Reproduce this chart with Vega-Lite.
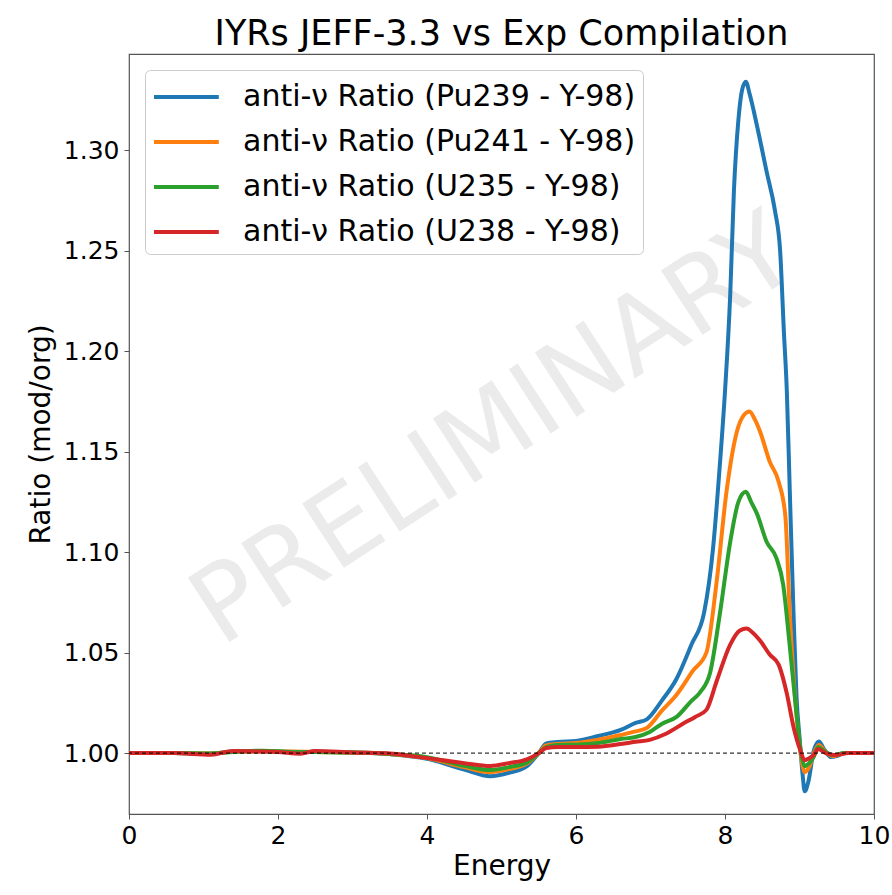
{
 "$schema": "https://vega.github.io/schema/vega-lite/v6.json",
 "width": 745,
 "height": 760,
 "autosize": {"type": "none"},
 "padding": {"left": 129, "top": 54, "right": 18, "bottom": 81},
 "background": "white",
 "config": {"font": "DejaVu Sans", "view": {"stroke": "#555", "strokeWidth": 1.2}},
 "title": {"text": "IYRs JEFF-3.3 vs Exp Compilation", "fontSize": 35, "fontWeight": "normal", "color": "#000", "anchor": "middle", "frame": "group", "offset": 2},
 "layer": [
  {
   "data": {"values": [{}]},
   "mark": {"type": "text", "text": "PRELIMINARY", "fontSize": 105, "angle": -33, "color": "#ebebeb", "align": "center", "baseline": "middle"},
   "encoding": {
    "x": {"datum": 4.91, "type": "quantitative", "scale": {"domain": [0, 10], "nice": false, "zero": false}, "axis": {"title": "Energy", "values": [0, 2, 4, 6, 8, 10], "format": "d", "labelFontSize": 25, "titleFontSize": 28, "titleFontWeight": "normal", "tickSize": 5, "labelPadding": 4, "titlePadding": 4, "grid": false, "domain": false, "labelColor": "#000", "titleColor": "#000", "tickColor": "#555", "labelFlush": false}},
    "y": {"datum": 1.16, "type": "quantitative", "scale": {"domain": [0.9697, 1.3478], "nice": false, "zero": false}, "axis": {"title": "Ratio (mod/org)", "values": [1, 1.05, 1.1, 1.15, 1.2, 1.25, 1.3], "format": ".2f", "labelFontSize": 25, "titleFontSize": 28, "titleFontWeight": "normal", "tickSize": 5, "labelPadding": 5, "titlePadding": 8, "grid": false, "domain": false, "labelColor": "#000", "titleColor": "#000", "tickColor": "#555"}}
   }
  },
  {
   "data": {"values": [
    {"k":"Pu239","e":0,"r":1.0},{"k":"Pu239","e":0.6,"r":1.0},{"k":"Pu239","e":1.1,"r":0.9997},{"k":"Pu239","e":1.4,"r":1.0008},{"k":"Pu239","e":1.8,"r":1.001},{"k":"Pu239","e":2.2,"r":1.0004},{"k":"Pu239","e":2.5,"r":1.0007},{"k":"Pu239","e":3.0,"r":1.0003},{"k":"Pu239","e":3.5,"r":0.9995},{"k":"Pu239","e":4.0,"r":0.9972},{"k":"Pu239","e":4.5,"r":0.9918},{"k":"Pu239","e":4.85,"r":0.9885},{"k":"Pu239","e":5.1,"r":0.9902},{"k":"Pu239","e":5.35,"r":0.9938},{"k":"Pu239","e":5.5,"r":1.0},{"k":"Pu239","e":5.6,"r":1.0048},{"k":"Pu239","e":5.75,"r":1.0055},{"k":"Pu239","e":6.0,"r":1.006},{"k":"Pu239","e":6.3,"r":1.0085},{"k":"Pu239","e":6.6,"r":1.0115},{"k":"Pu239","e":6.8,"r":1.015},{"k":"Pu239","e":6.95,"r":1.0168},{"k":"Pu239","e":7.15,"r":1.026},{"k":"Pu239","e":7.35,"r":1.037},{"k":"Pu239","e":7.55,"r":1.054},{"k":"Pu239","e":7.72,"r":1.07},{"k":"Pu239","e":7.84,"r":1.102},{"k":"Pu239","e":7.93,"r":1.143},{"k":"Pu239","e":8.0,"r":1.18},{"k":"Pu239","e":8.07,"r":1.228},{"k":"Pu239","e":8.12,"r":1.28},{"k":"Pu239","e":8.18,"r":1.315},{"k":"Pu239","e":8.23,"r":1.33},{"k":"Pu239","e":8.28,"r":1.334},{"k":"Pu239","e":8.33,"r":1.328},{"k":"Pu239","e":8.43,"r":1.312},{"k":"Pu239","e":8.56,"r":1.289},{"k":"Pu239","e":8.67,"r":1.27},{"k":"Pu239","e":8.74,"r":1.25},{"k":"Pu239","e":8.79,"r":1.21},{"k":"Pu239","e":8.83,"r":1.18},{"k":"Pu239","e":8.87,"r":1.13},{"k":"Pu239","e":8.92,"r":1.069},{"k":"Pu239","e":8.96,"r":1.028},{"k":"Pu239","e":9.0,"r":1.008},{"k":"Pu239","e":9.04,"r":0.99},{"k":"Pu239","e":9.07,"r":0.981},{"k":"Pu239","e":9.12,"r":0.986},{"k":"Pu239","e":9.19,"r":1.001},{"k":"Pu239","e":9.26,"r":1.0058},{"k":"Pu239","e":9.33,"r":1.002},{"k":"Pu239","e":9.42,"r":0.998},{"k":"Pu239","e":9.5,"r":0.9985},{"k":"Pu239","e":9.6,"r":1.0},{"k":"Pu239","e":10,"r":1.0},
    {"k":"Pu241","e":0,"r":1.0},{"k":"Pu241","e":0.6,"r":1.0},{"k":"Pu241","e":1.1,"r":0.9998},{"k":"Pu241","e":1.4,"r":1.0007},{"k":"Pu241","e":1.8,"r":1.0008},{"k":"Pu241","e":2.2,"r":1.0008},{"k":"Pu241","e":2.5,"r":1.0005},{"k":"Pu241","e":3.0,"r":1.0003},{"k":"Pu241","e":3.5,"r":0.9996},{"k":"Pu241","e":4.0,"r":0.9976},{"k":"Pu241","e":4.5,"r":0.993},{"k":"Pu241","e":4.85,"r":0.9905},{"k":"Pu241","e":5.1,"r":0.992},{"k":"Pu241","e":5.35,"r":0.995},{"k":"Pu241","e":5.5,"r":1.0},{"k":"Pu241","e":5.6,"r":1.0038},{"k":"Pu241","e":5.75,"r":1.0045},{"k":"Pu241","e":6.0,"r":1.005},{"k":"Pu241","e":6.3,"r":1.0066},{"k":"Pu241","e":6.6,"r":1.009},{"k":"Pu241","e":6.8,"r":1.0108},{"k":"Pu241","e":6.95,"r":1.0125},{"k":"Pu241","e":7.15,"r":1.021},{"k":"Pu241","e":7.35,"r":1.029},{"k":"Pu241","e":7.57,"r":1.041},{"k":"Pu241","e":7.75,"r":1.05},{"k":"Pu241","e":7.89,"r":1.086},{"k":"Pu241","e":8.02,"r":1.13},{"k":"Pu241","e":8.16,"r":1.16},{"k":"Pu241","e":8.25,"r":1.168},{"k":"Pu241","e":8.33,"r":1.17},{"k":"Pu241","e":8.4,"r":1.166},{"k":"Pu241","e":8.47,"r":1.16},{"k":"Pu241","e":8.6,"r":1.145},{"k":"Pu241","e":8.72,"r":1.135},{"k":"Pu241","e":8.81,"r":1.118},{"k":"Pu241","e":8.87,"r":1.069},{"k":"Pu241","e":8.94,"r":1.028},{"k":"Pu241","e":9.01,"r":1.0015},{"k":"Pu241","e":9.07,"r":0.9905},{"k":"Pu241","e":9.13,"r":0.993},{"k":"Pu241","e":9.2,"r":1.0005},{"k":"Pu241","e":9.26,"r":1.004},{"k":"Pu241","e":9.34,"r":1.001},{"k":"Pu241","e":9.45,"r":0.9985},{"k":"Pu241","e":9.6,"r":1.0},{"k":"Pu241","e":10,"r":1.0},
    {"k":"U235","e":0,"r":1.0},{"k":"U235","e":0.6,"r":1.0},{"k":"U235","e":1.1,"r":0.9998},{"k":"U235","e":1.4,"r":1.0006},{"k":"U235","e":1.8,"r":1.0012},{"k":"U235","e":2.2,"r":1.0006},{"k":"U235","e":2.5,"r":1.0005},{"k":"U235","e":3.0,"r":1.0003},{"k":"U235","e":3.5,"r":0.9996},{"k":"U235","e":4.0,"r":0.998},{"k":"U235","e":4.5,"r":0.9937},{"k":"U235","e":4.85,"r":0.9916},{"k":"U235","e":5.1,"r":0.993},{"k":"U235","e":5.35,"r":0.9955},{"k":"U235","e":5.5,"r":1.0},{"k":"U235","e":5.6,"r":1.003},{"k":"U235","e":5.75,"r":1.004},{"k":"U235","e":6.0,"r":1.0042},{"k":"U235","e":6.3,"r":1.005},{"k":"U235","e":6.6,"r":1.007},{"k":"U235","e":6.8,"r":1.008},{"k":"U235","e":6.99,"r":1.0105},{"k":"U235","e":7.15,"r":1.0145},{"k":"U235","e":7.35,"r":1.018},{"k":"U235","e":7.55,"r":1.026},{"k":"U235","e":7.66,"r":1.03},{"k":"U235","e":7.8,"r":1.04},{"k":"U235","e":7.93,"r":1.069},{"k":"U235","e":8.07,"r":1.105},{"k":"U235","e":8.18,"r":1.125},{"k":"U235","e":8.28,"r":1.13},{"k":"U235","e":8.35,"r":1.125},{"k":"U235","e":8.43,"r":1.119},{"k":"U235","e":8.56,"r":1.105},{"k":"U235","e":8.69,"r":1.097},{"k":"U235","e":8.78,"r":1.084},{"k":"U235","e":8.87,"r":1.053},{"k":"U235","e":8.96,"r":1.0196},{"k":"U235","e":9.03,"r":0.998},{"k":"U235","e":9.07,"r":0.9935},{"k":"U235","e":9.13,"r":0.995},{"k":"U235","e":9.19,"r":0.998},{"k":"U235","e":9.25,"r":1.003},{"k":"U235","e":9.34,"r":1.0008},{"k":"U235","e":9.45,"r":0.999},{"k":"U235","e":9.6,"r":1.0},{"k":"U235","e":10,"r":1.0},
    {"k":"U238","e":0,"r":1.0},{"k":"U238","e":0.6,"r":1.0},{"k":"U238","e":1.1,"r":0.9992},{"k":"U238","e":1.4,"r":1.001},{"k":"U238","e":1.7,"r":1.0008},{"k":"U238","e":2.0,"r":1.0005},{"k":"U238","e":2.3,"r":0.9997},{"k":"U238","e":2.5,"r":1.001},{"k":"U238","e":3.0,"r":1.0003},{"k":"U238","e":3.5,"r":0.9998},{"k":"U238","e":3.9,"r":0.998},{"k":"U238","e":4.5,"r":0.995},{"k":"U238","e":4.85,"r":0.9936},{"k":"U238","e":5.1,"r":0.995},{"k":"U238","e":5.35,"r":0.997},{"k":"U238","e":5.5,"r":1.0},{"k":"U238","e":5.6,"r":1.0025},{"k":"U238","e":5.75,"r":1.003},{"k":"U238","e":6.0,"r":1.003},{"k":"U238","e":6.3,"r":1.0032},{"k":"U238","e":6.6,"r":1.0045},{"k":"U238","e":6.8,"r":1.0056},{"k":"U238","e":6.99,"r":1.0066},{"k":"U238","e":7.2,"r":1.0095},{"k":"U238","e":7.44,"r":1.0147},{"k":"U238","e":7.6,"r":1.018},{"k":"U238","e":7.75,"r":1.0215},{"k":"U238","e":7.89,"r":1.036},{"k":"U238","e":8.07,"r":1.054},{"k":"U238","e":8.2,"r":1.061},{"k":"U238","e":8.29,"r":1.062},{"k":"U238","e":8.37,"r":1.06},{"k":"U238","e":8.47,"r":1.056},{"k":"U238","e":8.6,"r":1.049},{"k":"U238","e":8.72,"r":1.044},{"k":"U238","e":8.83,"r":1.0296},{"k":"U238","e":8.92,"r":1.013},{"k":"U238","e":9.01,"r":1.0015},{"k":"U238","e":9.07,"r":0.9965},{"k":"U238","e":9.13,"r":0.9975},{"k":"U238","e":9.19,"r":0.999},{"k":"U238","e":9.25,"r":1.002},{"k":"U238","e":9.35,"r":1.0},{"k":"U238","e":9.48,"r":0.999},{"k":"U238","e":9.66,"r":1.0},{"k":"U238","e":10,"r":1.0}
   ]},
   "mark": {"type": "line", "strokeWidth": 4, "interpolate": "monotone"},
   "encoding": {
    "x": {"field": "e", "type": "quantitative"},
    "y": {"field": "r", "type": "quantitative"},
    "color": {
     "field": "k", "type": "nominal",
     "scale": {"domain": ["Pu239", "Pu241", "U235", "U238"], "range": ["#1f77b4", "#ff7f0e", "#2ca02c", "#d62728"]},
     "legend": {"orient": "top-left", "offset": 16, "title": null, "labelExpr": "'anti-ν Ratio (' + datum.label + ' - Y-98)'", "labelFontSize": 30, "labelLimit": 700, "labelColor": "#000", "symbolType": "M-1,0H2.6", "symbolSize": 1296, "symbolStrokeWidth": 4, "labelOffset": 51, "rowPadding": 10, "padding": 7, "fillColor": "rgba(255,255,255,0.85)", "strokeColor": "#cccccc", "cornerRadius": 5}
    }
   }
  },
  {
   "data": {"values": [{}]},
   "mark": {"type": "rule", "strokeDash": [4, 3], "color": "#000", "strokeWidth": 1},
   "encoding": {"y": {"datum": 1, "type": "quantitative"}}
  }
 ]
}
